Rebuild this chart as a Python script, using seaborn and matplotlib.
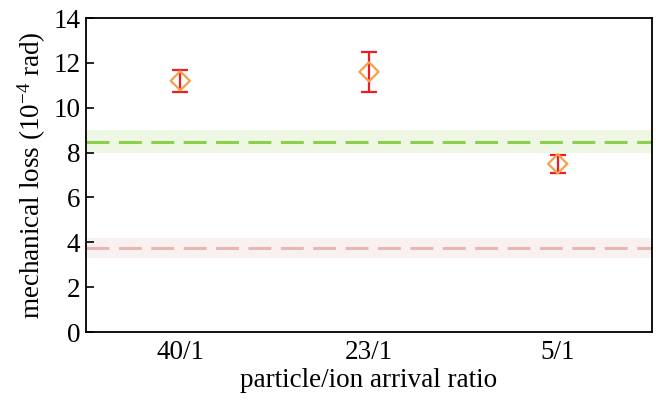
import matplotlib
matplotlib.use("Agg")
import matplotlib.pyplot as plt
import seaborn as sns
import pandas as pd

# Data
ratios = ["40/1", "23/1", "5/1"]
loss = [11.2, 11.6, 7.5]
err_low = [0.5, 0.9, 0.4]
err_high = [0.5, 0.9, 0.4]

green_level = 8.47
green_band = (7.98, 9.0)
pink_level = 3.74
pink_band = (3.30, 4.19)

sns.set_style("ticks")
plt.rcParams["font.family"] = ["Liberation Serif", "DejaVu Serif"]
plt.rcParams["mathtext.fontset"] = "custom"
plt.rcParams["mathtext.rm"] = "Liberation Serif"
plt.rcParams["mathtext.it"] = "Liberation Serif:italic"
plt.rcParams["text.color"] = "black"
plt.rcParams["axes.labelcolor"] = "black"
plt.rcParams["xtick.color"] = "black"
plt.rcParams["ytick.color"] = "black"

df = pd.DataFrame({"ratio": ratios, "loss": loss})
df["x"] = range(len(ratios))

fig = plt.figure(figsize=(6.56, 4.0), dpi=100)
ax = fig.add_axes([0.131, 0.17, 0.863, 0.785])

# reference bands and dashed levels
ax.axhspan(*green_band, color="#eef7e3", zorder=0, lw=0)
ax.axhspan(*pink_band, color="#f9f1f0", zorder=0, lw=0)
ax.axhline(green_level, color="#8ccf4c", lw=2.2, dashes=(7.5, 3.1), zorder=1)
ax.axhline(pink_level, color="#e8b6b4", lw=2.2, dashes=(7.5, 3.1), zorder=1)

ax.errorbar(df["x"], df["loss"], yerr=[err_low, err_high], fmt="none",
            ecolor="#ee1c24", elinewidth=1.6, capsize=5.5, capthick=1.6, zorder=2)
sns.scatterplot(data=df, x="x", y="loss", marker="D", s=95,
                facecolor="none", edgecolor="#f7a04a", linewidth=1.6,
                ax=ax, zorder=3)

ax.set_xlim(-0.5, 2.5)
ax.set_ylim(0, 14)
ax.set_xticks(df["x"])
ax.set_xticklabels(ratios)
ax.set_yticks(range(0, 15, 2))
ax.tick_params(axis="y", direction="in", length=6, width=1.2, labelsize=19.5,
               pad=4, colors="black")
ax.tick_params(axis="x", length=0, labelsize=19.5, pad=6, colors="black")
for sp in ax.spines.values():
    sp.set_linewidth(1.3)
    sp.set_color("black")

ax.set_xlabel("particle/ion arrival ratio", fontsize=19.5, labelpad=2, color="black")
ax.set_ylabel("mechanical loss (10$^{-4}$ rad)", fontsize=19.5, labelpad=4, color="black")

fig.savefig("out.png", dpi=100)
